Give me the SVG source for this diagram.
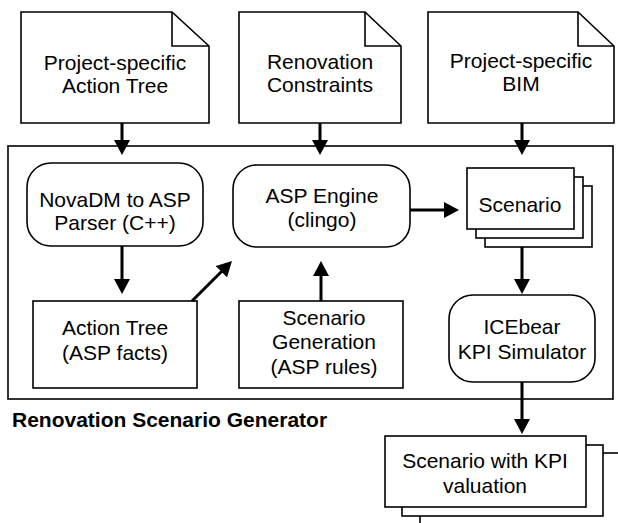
<svg xmlns="http://www.w3.org/2000/svg" width="618" height="523" viewBox="0 0 618 523">
<style>
.box{fill:#fff;stroke:#000;stroke-width:1.6}
.fold{fill:none;stroke:#000;stroke-width:1.6}
.t{font-family:"Liberation Sans",Arial,Helvetica,sans-serif;font-size:21px;fill:#000;text-anchor:middle}
.lbl{font-family:"Liberation Sans",Arial,Helvetica,sans-serif;font-size:21px;font-weight:bold;fill:#000}
.arr{stroke:#000;stroke-width:3;fill:none;marker-end:url(#ah)}
</style>
<defs>
<marker id="ah" markerUnits="userSpaceOnUse" viewBox="0 0 15 16" markerWidth="15" markerHeight="16" refX="7" refY="8" orient="auto">
<path d="M0,0 L15,8 L0,16 z" fill="#000"/>
</marker>
</defs>
<rect width="618" height="523" fill="#fff"/>
<g id="generator">
<rect class="box" x="8" y="146" width="605" height="253"/>
<text class="lbl" x="12" y="427">Renovation Scenario Generator</text>
</g>
<g id="doc-action-tree">
<path class="box" d="M21,12 H172 L209,46 V123 H21 Z"/>
<path class="fold" d="M172,12 V46 H209"/>
<text class="t" x="115" y="70">Project-specific</text>
<text class="t" x="115" y="93">Action Tree</text>
</g>
<g id="doc-constraints">
<path class="box" d="M239,12 H365 L401,46 V123 H239 Z"/>
<path class="fold" d="M365,12 V46 H401"/>
<text class="t" x="320" y="69">Renovation</text>
<text class="t" x="320" y="92">Constraints</text>
</g>
<g id="doc-bim">
<path class="box" d="M428,12 H578 L614,46 V123 H428 Z"/>
<path class="fold" d="M578,12 V46 H614"/>
<text class="t" x="521" y="68">Project-specific</text>
<text class="t" x="521" y="91">BIM</text>
</g>
<g id="parser">
<rect class="box" x="27" y="163" width="176" height="83" rx="24"/>
<text class="t" x="115" y="207">NovaDM to ASP</text>
<text class="t" x="115" y="230">Parser (C++)</text>
</g>
<g id="asp-engine">
<rect class="box" x="233" y="165" width="177" height="82" rx="24"/>
<text class="t" x="322" y="203">ASP Engine</text>
<text class="t" x="322" y="227">(clingo)</text>
</g>
<g id="scenario">
<rect class="box" x="485" y="186" width="107" height="61"/>
<rect class="box" x="476" y="177" width="107" height="61"/>
<rect class="box" x="467" y="168" width="107" height="61"/>
<text class="t" x="520" y="212">Scenario</text>
</g>
<g id="action-tree-facts">
<rect class="box" x="33" y="301" width="164" height="87"/>
<text class="t" x="115" y="335">Action Tree</text>
<text class="t" x="115" y="360">(ASP facts)</text>
</g>
<g id="scenario-generation">
<rect class="box" x="239" y="301" width="164" height="87"/>
<text class="t" x="324" y="325">Scenario</text>
<text class="t" x="324" y="349">Generation</text>
<text class="t" x="324" y="374">(ASP rules)</text>
</g>
<g id="icebear">
<rect class="box" x="449" y="295" width="146" height="87" rx="24"/>
<text class="t" x="522" y="334">ICEbear</text>
<text class="t" x="522" y="359">KPI Simulator</text>
</g>
<g id="scenario-kpi">
<rect class="box" x="420" y="453" width="201" height="71"/>
<rect class="box" x="402" y="445" width="201" height="71"/>
<rect class="box" x="385" y="436" width="201" height="71"/>
<text class="t" x="485" y="468">Scenario with KPI</text>
<text class="t" x="485" y="493">valuation</text>
</g>
<g id="connectors">
<line class="arr" x1="122" y1="123" x2="122" y2="147"/>
<line class="arr" x1="320" y1="123" x2="320" y2="147"/>
<line class="arr" x1="522" y1="123" x2="522" y2="147"/>
<line class="arr" x1="122" y1="246" x2="122" y2="286"/>
<line class="arr" x1="192" y1="301" x2="226.3" y2="266.7"/>
<line class="arr" x1="321" y1="301" x2="321" y2="269"/>
<line class="arr" x1="410" y1="210" x2="451" y2="210"/>
<line class="arr" x1="522" y1="247" x2="522" y2="286"/>
<line class="arr" x1="522" y1="382" x2="522" y2="426"/>
</g>
</svg>
